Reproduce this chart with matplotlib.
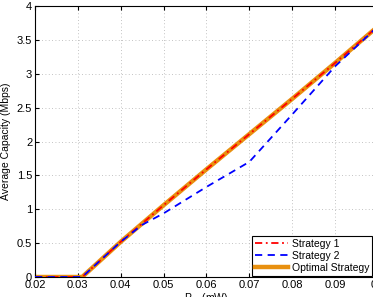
import matplotlib
matplotlib.use("Agg")
import matplotlib.pyplot as plt

# power values (mW)
p_opt = [0.02, 0.03, 0.031, 0.04, 0.05, 0.06, 0.07, 0.08, 0.09, 0.1]
cap_opt = [0, 0, 0, 0.52, 1.06, 1.59, 2.11, 2.63, 3.16, 3.70]
cap_s1 = [0, 0, 0, 0.52, 1.06, 1.59, 2.11, 2.63, 3.16, 3.70]

p_s2 = [0.02, 0.03, 0.031, 0.04, 0.045, 0.05, 0.06, 0.07, 0.08, 0.09, 0.1]
cap_s2 = [0, 0, 0, 0.52, 0.77, 0.94, 1.33, 1.70, 2.40, 3.11, 3.70]

plt.rcParams["font.family"] = ["Liberation Sans", "DejaVu Sans"]

fig = plt.figure(figsize=(3.73, 2.97), dpi=100)
ax = fig.add_axes([0.0938, 0.0673, 0.9196, 0.9125])

ax.plot(p_opt, cap_opt, color="#E8900F", lw=3.2, label="Optimal Strategy", zorder=2)
ax.plot(p_opt, cap_s1, color="#FF0000", lw=1.3, ls=(0, (4, 2, 1, 2)), label="Strategy 1", zorder=3)
ax.plot(p_s2, cap_s2, color="#0000FF", lw=1.3, ls=(0, (4, 3)), label="Strategy 2", zorder=4)

ax.set_xlim(0.02, 0.1)
ax.set_ylim(0, 4)
ax.set_xticks([0.02, 0.03, 0.04, 0.05, 0.06, 0.07, 0.08, 0.09, 0.1])
ax.set_xticklabels(["0.02", "0.03", "0.04", "0.05", "0.06", "0.07", "0.08", "0.09", "0.1"])
ax.set_yticks([0, 0.5, 1, 1.5, 2, 2.5, 3, 3.5, 4])
ax.set_yticklabels(["0", "0.5", "1", "1.5", "2", "2.5", "3", "3.5", "4"])
ax.tick_params(direction="in", top=True, right=True, labelsize=8, length=3, pad=2)
ax.grid(True, ls=(0, (1, 3)), color="#b0b0b0", lw=0.6)
for s in ax.spines.values():
    s.set_linewidth(0.8)

ax.set_ylabel("Average Capacity (Mbps)", fontsize=7.5, labelpad=4)
ax.set_xlabel("P$_{re}$ (mW)", fontsize=7.5, labelpad=1)

h, l = ax.get_legend_handles_labels()
order = [1, 2, 0]
leg = ax.legend([h[i] for i in order], [l[i] for i in order], loc="lower right",
                bbox_to_anchor=(0.983, 0.004), borderaxespad=0, fontsize=7.5,
                fancybox=False, edgecolor="black", framealpha=1,
                handlelength=3.2, handletextpad=0.3, borderpad=0.3, labelspacing=0.2)
leg.get_frame().set_linewidth(0.8)

plt.savefig("out.png", dpi=100)
plt.close()
